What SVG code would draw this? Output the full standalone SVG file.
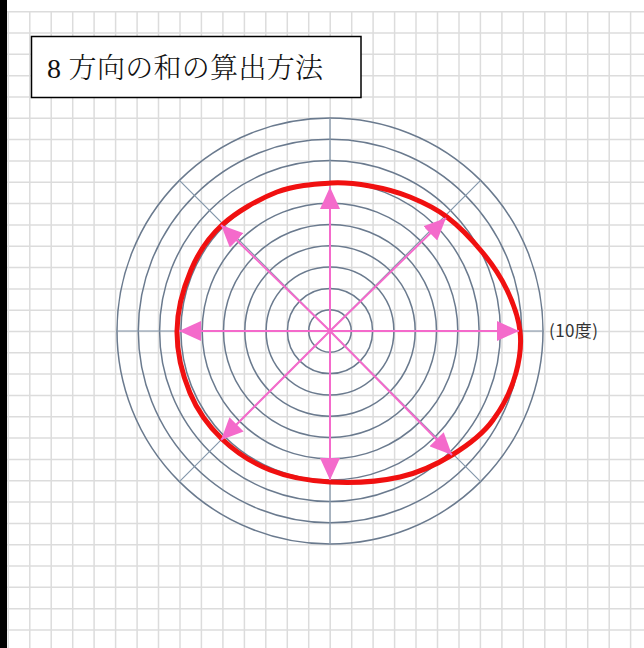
<svg xmlns="http://www.w3.org/2000/svg" width="644" height="648" viewBox="0 0 644 648">
<defs>
<style>
.grid line{stroke:#dcdcdc;stroke-width:1.5}
.ring{fill:none;stroke:#6a7a8e;stroke-width:1.5}
.axis{stroke:#8396aa;stroke-width:1.2}
.arrow{stroke:#f46acb;stroke-width:2;marker-end:url(#ah)}
.title{font-family:"Liberation Serif","Noto Serif CJK JP","Noto Sans CJK JP",serif;font-size:28px;font-weight:300;fill:#111;letter-spacing:0.3px}
.lbl{font-family:"Noto Sans CJK JP","Noto Sans",sans-serif;font-size:17px;fill:#333;letter-spacing:0.4px}
</style>
<marker id="ah" markerUnits="userSpaceOnUse" markerWidth="22" markerHeight="20" refX="22" refY="10" orient="auto" viewBox="0 0 22 20">
<path d="M0,0 L22,10 L0,20 Z" fill="#f46acb"/>
</marker>
</defs>
<rect x="0" y="0" width="644" height="648" fill="#ffffff"/>
<g class="grid" id="grid">
<line x1="8.3" y1="11" x2="8.3" y2="648"/><line x1="29.8" y1="11" x2="29.8" y2="648"/><line x1="51.2" y1="11" x2="51.2" y2="648"/><line x1="72.7" y1="11" x2="72.7" y2="648"/><line x1="94.1" y1="11" x2="94.1" y2="648"/><line x1="115.6" y1="11" x2="115.6" y2="648"/><line x1="137.1" y1="11" x2="137.1" y2="648"/><line x1="158.5" y1="11" x2="158.5" y2="648"/><line x1="180" y1="11" x2="180" y2="648"/><line x1="201.4" y1="11" x2="201.4" y2="648"/><line x1="222.9" y1="11" x2="222.9" y2="648"/><line x1="244.4" y1="11" x2="244.4" y2="648"/><line x1="265.8" y1="11" x2="265.8" y2="648"/><line x1="287.3" y1="11" x2="287.3" y2="648"/><line x1="308.7" y1="11" x2="308.7" y2="648"/><line x1="330.2" y1="11" x2="330.2" y2="648"/><line x1="351.7" y1="11" x2="351.7" y2="648"/><line x1="373.1" y1="11" x2="373.1" y2="648"/><line x1="394.6" y1="11" x2="394.6" y2="648"/><line x1="416" y1="11" x2="416" y2="648"/><line x1="437.5" y1="11" x2="437.5" y2="648"/><line x1="459" y1="11" x2="459" y2="648"/><line x1="480.4" y1="11" x2="480.4" y2="648"/><line x1="501.9" y1="11" x2="501.9" y2="648"/><line x1="523.3" y1="11" x2="523.3" y2="648"/><line x1="544.8" y1="11" x2="544.8" y2="648"/><line x1="566.3" y1="11" x2="566.3" y2="648"/><line x1="587.7" y1="11" x2="587.7" y2="648"/><line x1="609.2" y1="11" x2="609.2" y2="648"/><line x1="630.6" y1="11" x2="630.6" y2="648"/>
<line x1="7" y1="11.7" x2="644" y2="11.7"/><line x1="7" y1="33" x2="644" y2="33"/><line x1="7" y1="54.3" x2="644" y2="54.3"/><line x1="7" y1="75.7" x2="644" y2="75.7"/><line x1="7" y1="97" x2="644" y2="97"/><line x1="7" y1="118.3" x2="644" y2="118.3"/><line x1="7" y1="139.6" x2="644" y2="139.6"/><line x1="7" y1="160.9" x2="644" y2="160.9"/><line x1="7" y1="182.3" x2="644" y2="182.3"/><line x1="7" y1="203.6" x2="644" y2="203.6"/><line x1="7" y1="224.9" x2="644" y2="224.9"/><line x1="7" y1="246.2" x2="644" y2="246.2"/><line x1="7" y1="267.5" x2="644" y2="267.5"/><line x1="7" y1="288.9" x2="644" y2="288.9"/><line x1="7" y1="310.2" x2="644" y2="310.2"/><line x1="7" y1="331.5" x2="644" y2="331.5"/><line x1="7" y1="352.8" x2="644" y2="352.8"/><line x1="7" y1="374.1" x2="644" y2="374.1"/><line x1="7" y1="395.5" x2="644" y2="395.5"/><line x1="7" y1="416.8" x2="644" y2="416.8"/><line x1="7" y1="438.1" x2="644" y2="438.1"/><line x1="7" y1="459.4" x2="644" y2="459.4"/><line x1="7" y1="480.7" x2="644" y2="480.7"/><line x1="7" y1="502.1" x2="644" y2="502.1"/><line x1="7" y1="523.4" x2="644" y2="523.4"/><line x1="7" y1="544.7" x2="644" y2="544.7"/><line x1="7" y1="566" x2="644" y2="566"/><line x1="7" y1="587.3" x2="644" y2="587.3"/><line x1="7" y1="608.7" x2="644" y2="608.7"/><line x1="7" y1="630" x2="644" y2="630"/>
</g>
<rect x="0" y="0" width="7" height="648" fill="#000000"/>
<g id="title">
<rect x="31.5" y="36.5" width="329.5" height="61" fill="#ffffff" stroke="#000000" stroke-width="1.5"/>
<text class="title" x="47" y="78">8 方向の和の算出方法</text>
</g>
<g id="polar-chart">
<circle class="ring" cx="330" cy="331" r="21.3"/><circle class="ring" cx="330" cy="331" r="42.6"/><circle class="ring" cx="330" cy="331" r="63.9"/><circle class="ring" cx="330" cy="331" r="85.2"/><circle class="ring" cx="330" cy="331" r="106.5"/><circle class="ring" cx="330" cy="331" r="127.8"/><circle class="ring" cx="330" cy="331" r="149.1"/><circle class="ring" cx="330" cy="331" r="170.4"/><circle class="ring" cx="330" cy="331" r="191.7"/><circle class="ring" cx="330" cy="331" r="213"/>
<line class="axis" x1="117" y1="331" x2="543" y2="331"/>
<line class="axis" x1="330" y1="118" x2="330" y2="544"/>
<line class="axis" x1="179.4" y1="180.4" x2="480.6" y2="481.6"/>
<line class="axis" x1="480.6" y1="180.4" x2="179.4" y2="481.6"/>
</g>
<g id="sum-curve">
<path d="M331,183 C346.5,182 356.8,183.7 370,186 C383.2,188.3 397.2,191.8 410,197 C422.8,202.2 434.8,207.7 447,217 C459.2,226.3 473,240.8 483,253 C493,265.2 500.8,277 507,290 C513.2,303 518.5,318 520,331 C522.8,355 515,391 493,420 C482.3,435 467.5,445.5 452,455 C436.5,464.5 420.3,472.5 400,477 C379.7,481.5 351.7,483.2 330,482 C308.3,480.8 288,477.2 270,470 C252,462.8 235.3,451.8 222,439 C208.7,426.2 197.5,411 190,393 C182.5,375 176.8,351.5 177,331 C177.2,310.5 183.5,287.7 191,270 C198.5,252.3 207.7,238 222,225 C236.3,212 258.8,199 277,192 C295.2,185 315.5,184 331,183 Z" fill="none" stroke="#f01010" stroke-width="5"/>
</g>
<g id="connectors">
<line class="arrow" x1="330" y1="331" x2="330" y2="187"/>
<line class="arrow" x1="330" y1="331" x2="446" y2="218"/>
<line class="arrow" x1="330" y1="331" x2="519" y2="331"/>
<line class="arrow" x1="330" y1="331" x2="452" y2="455"/>
<line class="arrow" x1="330" y1="331" x2="330" y2="480"/>
<line class="arrow" x1="330" y1="331" x2="221" y2="440"/>
<line class="arrow" x1="330" y1="331" x2="179" y2="331"/>
<line class="arrow" x1="330" y1="331" x2="221" y2="225"/>
</g>
<g id="label">
<text class="lbl" x="549" y="337">(10度)</text>
</g>
</svg>
